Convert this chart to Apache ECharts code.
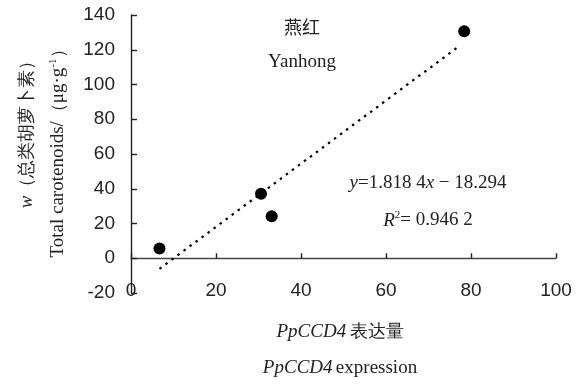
<!DOCTYPE html>
<html><head><meta charset="utf-8">
<script src="https://cdn.jsdelivr.net/npm/echarts@6/dist/echarts.min.js"></script>
<style>html,body{margin:0;padding:0;background:#fff}#c{width:586px;height:384px}</style>
</head><body><div id="c"></div>
<script>
// data
const pointX = [6.7, 30.6, 33.1, 78.4];
const pointY = [5.6, 37.1, 24.2, 130.6];
const trendX = [6.7, 77.5];
const trendY = [-6.1, 122.6];
const xTicks = [0, 20, 40, 60, 80, 100];
const yTicks = [-20, 0, 20, 40, 60, 80, 100, 120, 140];

const serif = '"Liberation Serif","Times New Roman",serif';
const sans = '"Liberation Sans",Arial,sans-serif';
const ink = '#222';

const chart = echarts.init(document.getElementById('c'));
const common = {verticalAlign:'bottom', fontFamily: serif, color: ink};
chart.setOption({
  animation:false,
  grid:{left:131, right:30, top:15, bottom:91},
  xAxis:{type:'value', min:xTicks[0], max:xTicks[xTicks.length-1], interval:20,
    axisLine:{onZero:true, lineStyle:{color:'#444', width:1.3}},
    axisTick:{show:true, inside:true, length:5, lineStyle:{color:ink, width:1.4}},
    axisLabel:{margin:-12, fontSize:19, fontFamily:sans, color:ink},
    splitLine:{show:false}},
  yAxis:{type:'value', min:yTicks[0], max:yTicks[yTicks.length-1], interval:20,
    axisLine:{show:true, onZero:false, lineStyle:{color:ink, width:1.4}},
    axisTick:{show:true, inside:true, length:6, lineStyle:{color:ink, width:1.4}},
    axisLabel:{margin:16, fontSize:19, fontFamily:sans, color:ink},
    splitLine:{show:false}},
  series:[
    {type:'line', data: trendX.map((x,i)=>[x, trendY[i]]), symbol:'none',
     lineStyle:{color:'#000', width:2.2, type:[2.5,5]}, z:2},
    {type:'scatter', data: pointX.map((x,i)=>[x, pointY[i]]), symbolSize:12,
     itemStyle:{color:'#000', opacity:1}, z:3}
  ],
  graphic:[
    {type:'text', x:302, y:27, style:{text:'燕红', font:'18px "Noto Sans CJK SC", serif', fill:ink, align:'center', verticalAlign:'middle', textAlign:'center', textVerticalAlign:'middle'}},
    {type:'text', x:302, y:62, style:{text:'Yanhong', font:'19px '+serif, fill:ink, align:'center', verticalAlign:'middle', textAlign:'center', textVerticalAlign:'middle'}},
    {type:'text', x:428, y:183, style:{text:'{i|y}{n|=1.818 4}{i|x}{n| − 18.294}', fill:ink, align:'center', verticalAlign:'middle', textAlign:'center', textVerticalAlign:'middle',
      rich:{i:Object.assign({fontSize:19, fontStyle:'italic'},common), n:Object.assign({fontSize:19},common)}}},
    {type:'text', x:428, y:220, style:{text:'{i|R}{s|2}{n|= 0.946 2}', fill:ink, align:'center', verticalAlign:'middle', textAlign:'center', textVerticalAlign:'middle',
      rich:{i:Object.assign({fontSize:19, fontStyle:'italic'},common), s:Object.assign({fontSize:11, padding:[0,0,9,0]},common), n:Object.assign({fontSize:19},common)}}},
    {type:'text', x:340, y:332, style:{text:'{i|PpCCD4} {c|表达量}', fill:ink, align:'center', verticalAlign:'middle', textAlign:'center', textVerticalAlign:'middle',
      rich:{i:Object.assign({fontSize:19, fontStyle:'italic'},common), c:Object.assign({fontSize:18, fontFamily:'"Noto Sans CJK SC", serif'},common)}}},
    {type:'text', x:340, y:368, style:{text:'{i|PpCCD4} {n|expression}', fill:ink, align:'center', verticalAlign:'middle', textAlign:'center', textVerticalAlign:'middle',
      rich:{i:Object.assign({fontSize:19, fontStyle:'italic'},common), n:Object.assign({fontSize:19},common)}}},
    {type:'text', x:27, y:130, rotation:Math.PI/2, style:{text:'{i|w}{c|（总类胡萝卜素）}', fill:ink, align:'center', verticalAlign:'middle', textAlign:'center', textVerticalAlign:'middle',
      rich:{i:Object.assign({fontSize:19, fontStyle:'italic'},common), c:Object.assign({fontSize:18, fontFamily:'"Noto Sans CJK SC", serif'},common)}}},
    {type:'text', x:58, y:149, rotation:Math.PI/2, style:{text:'{n|Total carotenoids/}{c|（}{n|μg·g}{s|-1}{c|）}', fill:ink, align:'center', verticalAlign:'middle', textAlign:'center', textVerticalAlign:'middle',
      rich:{n:Object.assign({fontSize:19},common), c:Object.assign({fontSize:18, fontFamily:'"Noto Sans CJK SC", serif'},common), s:Object.assign({fontSize:11, padding:[0,0,9,0]},common)}}}
  ]
});
</script></body></html>
